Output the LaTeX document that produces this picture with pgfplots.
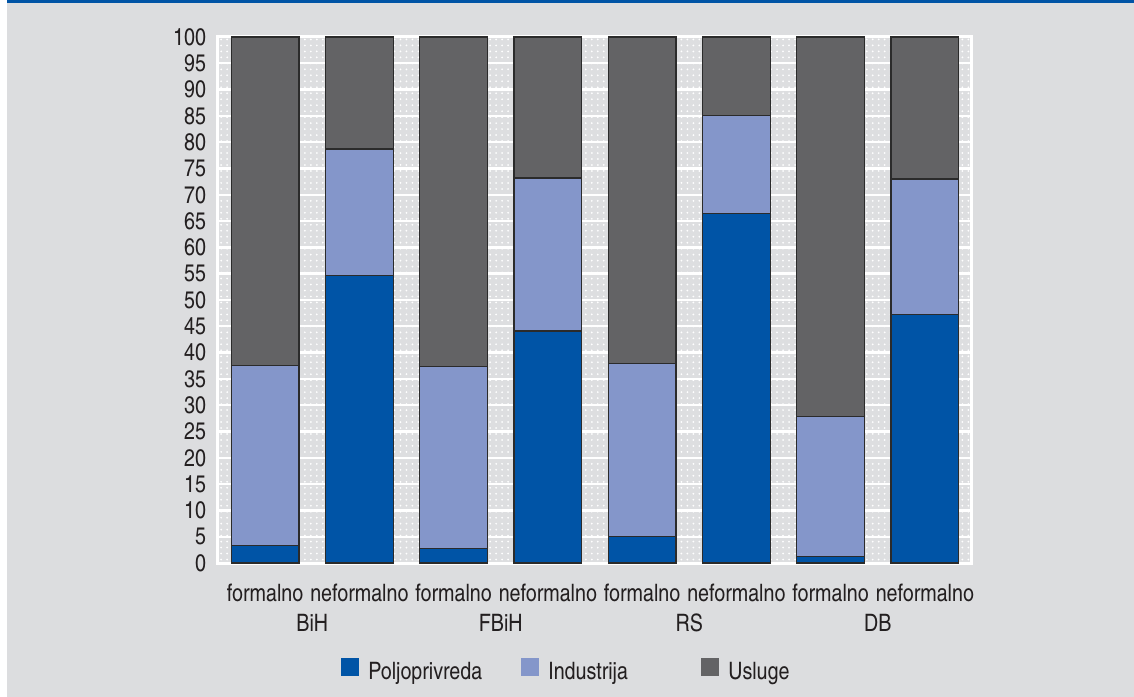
\documentclass[border=0pt]{standalone}
\usepackage{fontspec}
\setmainfont{texgyreheroscn}[Extension=.otf, UprightFont=*-regular, BoldFont=*-bold]
\usepackage{pgfplots}
\pgfplotsset{compat=1.18}
\usetikzlibrary{patterns}
\definecolor{bg}{HTML}{DCDDDF}
\definecolor{plotbg}{HTML}{DDDEE0}
\definecolor{topblue}{HTML}{0054A6}
\definecolor{polj}{HTML}{0054A6}
\definecolor{ind}{HTML}{8496CA}
\definecolor{usl}{HTML}{636365}
\definecolor{txt}{HTML}{231F20}
\definecolor{barline}{HTML}{2B2B2B}
\tikzset{grplabel/.style={anchor=base, yshift=-34bp, font=\fontsize{12bp}{14bp}\selectfont, text=txt, inner sep=0pt}}
\begin{document}
\begin{tikzpicture}
\fill[bg] (-109bp,-67bp) rectangle (458bp,281.5bp);
\fill[white] (-109bp,-67bp) rectangle (-105.5bp,281.5bp);
\fill[topblue] (-105.5bp,280bp) rectangle (458bp,281.5bp);
\path[use as bounding box] (-109bp,-67bp) rectangle (458bp,281.5bp);
\begin{axis}[
  at={(0,0)}, anchor=south west,
  scale only axis, width=377bp, height=263bp,
  ybar stacked, bar width=0.72,
  xmin=-0.5, xmax=7.5, ymin=0, ymax=100,
  xtick={0,...,7},
  xticklabels={formalno,neformalno,formalno,neformalno,formalno,neformalno,formalno,neformalno},
  ytick={0,5,...,100},
  major tick length=0,
  ymajorgrids, grid style={white, line width=1.2bp},
  axis line style={white, line width=1.5bp},
  axis background/.style={fill=plotbg, postaction={pattern=dots, pattern color=white}},
  /pgf/number format/assume math mode=true,
  tick label style={font=\fontsize{12bp}{14bp}\selectfont, text=txt},
  yticklabel style={xshift=-2.5bp},
  xticklabel style={anchor=base, yshift=-19.4bp},
  clip=false,
  every axis plot/.append style={draw=barline, line width=0.6bp},
  legend columns=3,
  legend cell align=left,
  legend style={draw=none, fill=none, at={(0.163,-0.204)}, anchor=west, inner sep=0pt,
    font=\fontsize{12bp}{14bp}\selectfont, text=txt, column sep=4.5bp,
    nodes={inner sep=0pt}},
  legend image code/.code={\fill[#1, draw=none] (0bp,-1.5bp) rectangle (9bp,7.5bp);},
]
\addplot[fill=polj] coordinates {(0,3.4) (1,54.6) (2,2.7) (3,44.1) (4,5.1) (5,66.5) (6,1.3) (7,47.3)};
\addplot[fill=ind] coordinates {(0,34.1) (1,24.1) (2,34.6) (3,29.1) (4,32.9) (5,18.5) (6,26.5) (7,25.7)};
\addplot[fill=usl] coordinates {(0,62.5) (1,21.3) (2,62.7) (3,26.8) (4,62.0) (5,15.0) (6,72.2) (7,27.0)};
\addlegendentry{\makebox[72bp][l]{Poljoprivreda}}
\addlegendentry{\makebox[72bp][l]{Industrija}}
\addlegendentry{\makebox[72bp][l]{Usluge}}
\node[grplabel] at (axis cs:0.5,0) {BiH};
\node[grplabel] at (axis cs:2.5,0) {FBiH};
\node[grplabel] at (axis cs:4.5,0) {RS};
\node[grplabel] at (axis cs:6.5,0) {DB};
\end{axis}
\end{tikzpicture}
\end{document}
